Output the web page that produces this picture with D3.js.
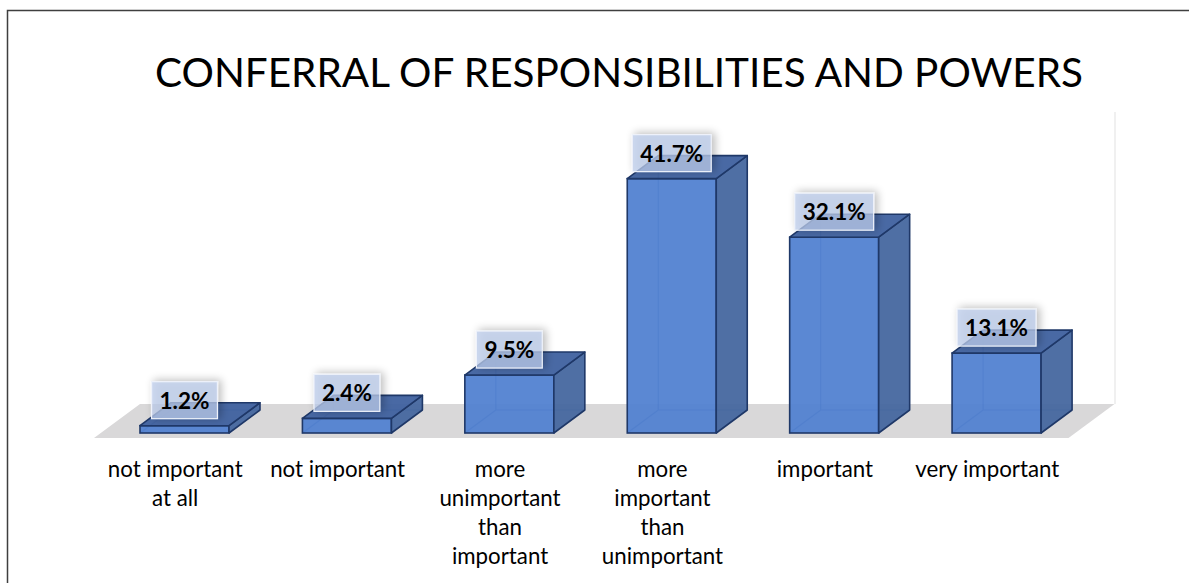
<!DOCTYPE html>
<html>
<head>
<meta charset="utf-8">
<script src="https://cdn.jsdelivr.net/npm/d3@7/dist/d3.min.js"></script>
<style>
  html, body { margin: 0; padding: 0; background: #ffffff; }
  svg { display: block; }
</style>
</head>
<body>
<svg id="chart" width="1189" height="583"></svg>
<script>
// Survey answers: conferral of responsibilities and powers
const categories = [
  "not important at all",
  "not important",
  "more unimportant than important",
  "more important than unimportant",
  "important",
  "very important"
];
const categoryLines = [
  ["not important", "at all"],
  ["not important"],
  ["more", "unimportant", "than", "important"],
  ["more", "important", "than", "unimportant"],
  ["important"],
  ["very important"]
];
const values = [1.2, 2.4, 9.5, 41.7, 32.1, 13.1];
const valueLabels = ["1.2%", "2.4%", "9.5%", "41.7%", "32.1%", "13.1%"];
const title = "CONFERRAL OF RESPONSIBILITIES AND POWERS";

const svg = d3.select("#chart");
const FONT = "Lato, 'Open Sans', 'DejaVu Sans', sans-serif";

// Layout of the pseudo-3D plot area
const baseY = 433;          // front edge of the bars' bottom
const floorFront = 438, floorBack = 404;
const floorDX = 46;         // horizontal shift of the floor's depth
const barDX = 31, barDY = -23;

const x = d3.scaleBand().domain(categories).range([94, 1068.5]).paddingInner(0).paddingOuter(0);
const y = d3.scaleLinear().domain([0, 50]).range([baseY, baseY - 305]);

const barOffset = 46;       // from band start to bar front-left
const barWidth = 89;

// Soft shadow used behind data labels
const defs = svg.append("defs");
const f = defs.append("filter").attr("id", "labelShadow")
  .attr("x", "-40%").attr("y", "-60%").attr("width", "180%").attr("height", "220%");
f.append("feGaussianBlur").attr("in", "SourceAlpha").attr("stdDeviation", 4).attr("result", "b");
f.append("feOffset").attr("in", "b").attr("dx", 3).attr("dy", -1).attr("result", "o");
f.append("feComponentTransfer").attr("in", "o").attr("result", "s")
  .append("feFuncA").attr("type", "linear").attr("slope", 0.35);
const m = f.append("feMerge");
m.append("feMergeNode").attr("in", "s");
m.append("feMergeNode").attr("in", "SourceGraphic");

// Outer frame
svg.append("path")
  .attr("d", "M7.5,583 V10.5 H1189")
  .attr("fill", "none").attr("stroke", "#3f3f3f").attr("stroke-width", 1.5);

// Title
svg.append("text")
  .attr("x", 619).attr("y", 87)
  .attr("text-anchor", "middle")
  .attr("font-family", FONT)
  .attr("font-size", 41)
  .attr("fill", "#000")
  .attr("textLength", 928)
  .attr("lengthAdjust", "spacingAndGlyphs")
  .text(title);

// Back wall edge
const [r0, r1] = x.range();
svg.append("line")
  .attr("x1", r1 + floorDX + 0.5).attr("x2", r1 + floorDX + 0.5)
  .attr("y1", 112).attr("y2", floorBack)
  .attr("stroke", "#ebebeb").attr("stroke-width", 1.5);

// Floor
svg.append("path")
  .attr("d", `M${r0},${floorFront} L${r1},${floorFront} L${r1 + floorDX},${floorBack} L${r0 + floorDX},${floorBack} Z`)
  .attr("fill", "#d9d8d9");

// Bars as transparent boxes
const edge = "#1f3868";
const bars = svg.append("g").selectAll("g").data(values).join("g");

bars.each(function (v, i) {
  const g = d3.select(this);
  const x0 = x(categories[i]) + barOffset, x1 = x0 + barWidth;
  const yT = y(v), yB = y(0);
  // hidden back edges seen through the faces
  g.append("path")
    .attr("d", `M${x0 + barDX},${yB + barDY} V${yT + barDY} M${x0},${yB} L${x0 + barDX},${yB + barDY} H${x1 + barDX}`)
    .attr("fill", "none").attr("stroke", "#2d4f8f").attr("stroke-opacity", 0.6).attr("stroke-width", 1.2);
  // front face
  g.append("rect")
    .attr("x", x0).attr("y", yT).attr("width", barWidth).attr("height", yB - yT)
    .attr("fill", "#4f7fd0").attr("fill-opacity", 0.93)
    .attr("stroke", edge).attr("stroke-width", 1.6);
  // side face
  g.append("path")
    .attr("d", `M${x1},${yB} L${x1 + barDX},${yB + barDY} L${x1 + barDX},${yT + barDY} L${x1},${yT} Z`)
    .attr("fill", "#46679f").attr("fill-opacity", 0.95)
    .attr("stroke", edge).attr("stroke-width", 1.6).attr("stroke-linejoin", "round");
  // top face
  g.append("path")
    .attr("d", `M${x0},${yT} L${x0 + barDX},${yT + barDY} L${x1 + barDX},${yT + barDY} L${x1},${yT} Z`)
    .attr("fill", "#3f619f").attr("fill-opacity", 0.95)
    .attr("stroke", edge).attr("stroke-width", 1.6).attr("stroke-linejoin", "round");
});

// Data labels in translucent boxes
const labels = svg.append("g").selectAll("g").data(values).join("g");
labels.each(function (v, i) {
  const g = d3.select(this);
  const cx = x(categories[i]) + barOffset + barWidth / 2;
  const yT = y(v);
  const boxBottom = yT - 7, boxH = 37;
  const rect = g.append("rect");
  const t = g.append("text")
    .attr("x", cx).attr("y", boxBottom - 10)
    .attr("text-anchor", "middle")
    .attr("font-family", FONT)
    .attr("font-weight", "bold")
    .attr("font-size", 22.5)
    .attr("fill", "#000")
    .text(valueLabels[i]);
  const w = t.node().getComputedTextLength() + 16;
  rect.attr("x", cx - w / 2).attr("y", boxBottom - boxH).attr("width", w).attr("height", boxH)
    .attr("fill", "#bccdec").attr("fill-opacity", 0.72)
    .attr("stroke", "#eef2fa").attr("stroke-width", 1.2)
    .attr("filter", "url(#labelShadow)");
});

// Category labels below the floor
const cat = svg.append("g").selectAll("text").data(categories).join("text")
  .attr("x", d => x(d) + x.bandwidth() / 2)
  .attr("y", 477)
  .attr("text-anchor", "middle")
  .attr("font-family", FONT)
  .attr("font-size", 22.3)
  .attr("fill", "#000");
cat.each(function (d, i) {
  d3.select(this).selectAll("tspan").data(categoryLines[i]).join("tspan")
    .attr("x", x(d) + x.bandwidth() / 2)
    .attr("dy", (l, j) => j === 0 ? 0 : 29)
    .text(l => l);
});
</script>
</body>
</html>
